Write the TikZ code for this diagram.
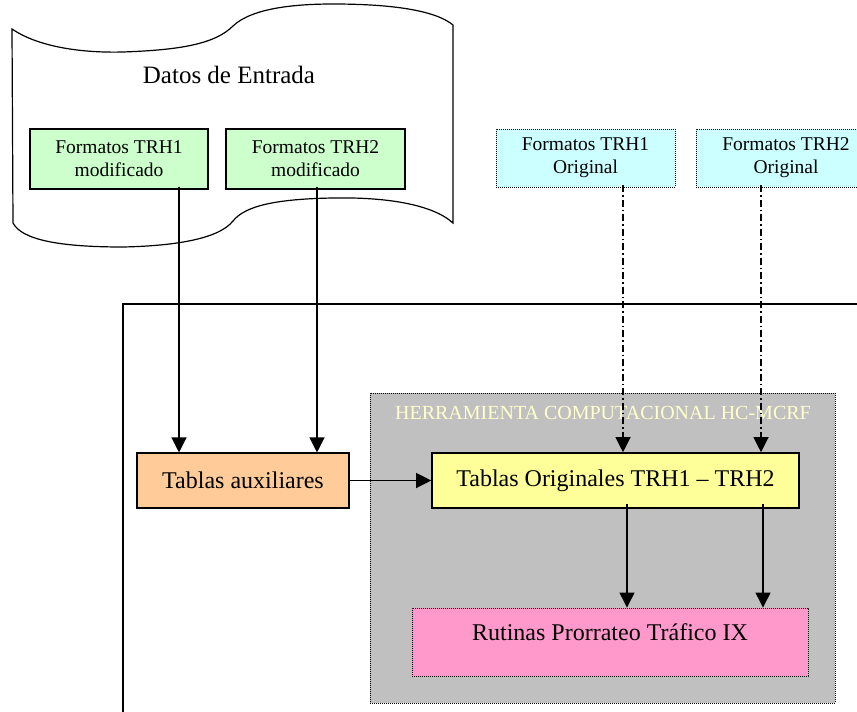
\documentclass[tikz,border=0pt]{standalone}
\usepackage{fontspec}
\setmainfont{Liberation Serif}
\usetikzlibrary{arrows.meta}

\definecolor{inputgreen}{HTML}{CCFFCC}
\definecolor{origcyan}{HTML}{CCFFFF}
\definecolor{auxorange}{HTML}{FFCC99}
\definecolor{tabyellow}{HTML}{FFFF99}
\definecolor{rutpink}{HTML}{FF99CC}
\definecolor{toolgray}{HTML}{C0C0C0}
\definecolor{titleyellow}{HTML}{FFFFCC}

\tikzset{
  box/.style={draw=black, line width=1.1pt, inner sep=0pt, align=center},
  dotbox/.style={draw=black, line width=0.9pt, dash pattern=on 0.9pt off 1.1pt, inner sep=0pt, align=center},
  smalltext/.style={font=\fontsize{19.5}{23}\selectfont},
  bigtext/.style={font=\fontsize{24}{28}\selectfont},
  arr/.style={line width=1.2pt, -{Triangle[length=15pt,width=15pt]}},
  dasharr/.style={line width=1.2pt, dash pattern=on 7pt off 3pt on 1.5pt off 3pt,
    -{Triangle[length=15pt,width=15pt]}},
}

\begin{document}
\begin{tikzpicture}[x=1pt, y=-1pt]
\clip (0,0) rectangle (857,712);
\fill[white] (0,0) rectangle (857,712);

% punched-tape input document
\draw[line width=1.2pt, fill=white]
  (12,29) .. controls (40,48) and (85,53) .. (123,52)
  .. controls (180,50) and (215,44) .. (233,26)
  .. controls (252,8) and (295,4) .. (333,4)
  .. controls (390,4) and (435,10) .. (453,25)
  -- (453,223)
  .. controls (432,204) and (385,197) .. (333,198)
  .. controls (275,199) and (245,206) .. (233,221)
  .. controls (218,240) and (170,246) .. (123,247)
  .. controls (60,247) and (22,240) .. (13,223)
  -- cycle;
\node[font=\fontsize{25}{30}\selectfont] (datos) at (229,75) {Datos de Entrada};

% outer frame (only its top and left sides are in view)
\draw[line width=1.2pt] (123,712) -- (123,304) -- (857,304);

% computational tool area
\node[dotbox, fill=toolgray, minimum width=465pt, minimum height=310pt] (tool) at (602.5,548) {};
\node[text=titleyellow, font=\fontsize{20}{24}\selectfont] (tooltitle) at (603,413)
  {HERRAMIENTA COMPUTACIONAL HC-MCRF};

% input formats
\node[box, fill=inputgreen, smalltext, minimum width=178pt, minimum height=60pt] (g1) at (119,159)
  {Formatos TRH1\\modificado};
\node[box, fill=inputgreen, smalltext, minimum width=179pt, minimum height=60pt] (g2) at (315.5,159)
  {Formatos TRH2\\modificado};

% original formats
\node[dotbox, fill=origcyan, smalltext, minimum width=179pt, minimum height=58pt] (c1) at (585.5,158)
  {Formatos TRH1\\Original};
\node[dotbox, fill=origcyan, smalltext, minimum width=180pt, minimum height=58pt] (c2) at (786,158)
  {Formatos TRH2\\Original};

% tables
\node[box, fill=auxorange, bigtext, minimum width=212pt, minimum height=55pt] (aux) at (243,480.5)
  {Tablas auxiliares};
\node[box, line width=1.6pt, fill=tabyellow, bigtext, minimum width=367pt, minimum height=55pt] (yel) at (615.5,480.5)
  {Tablas Originales TRH1 -- TRH2};

% routines
\node[dotbox, fill=rutpink, minimum width=396pt, minimum height=68pt,
  label={[bigtext, yshift=10pt]center:Rutinas Prorrateo Tráfico IX}] (rut) at (610,642) {};

% connectors
\draw[arr] ([xshift=60pt, yshift=3pt]g1.south) -- ([xshift=60pt]g1.south |- aux.north);
\draw[arr] ([xshift=1.5pt, yshift=3pt]g2.south) -- ([xshift=1.5pt]g2.south |- aux.north);
\draw[arr] (aux.east) -- (yel.west);
\draw[dasharr] ([xshift=37.5pt, yshift=2pt]c1.south) -- ([xshift=37.5pt]c1.south |- yel.north);
\draw[dasharr] ([xshift=-25pt, yshift=2pt]c2.south) -- ([xshift=-25pt]c2.south |- yel.north);
\draw[arr] ([xshift=11.5pt, yshift=5pt]yel.south) -- ([xshift=11.5pt]yel.south |- rut.north);
\draw[arr] ([xshift=147.5pt, yshift=5pt]yel.south) -- ([xshift=147.5pt]yel.south |- rut.north);
\end{tikzpicture}
\end{document}
